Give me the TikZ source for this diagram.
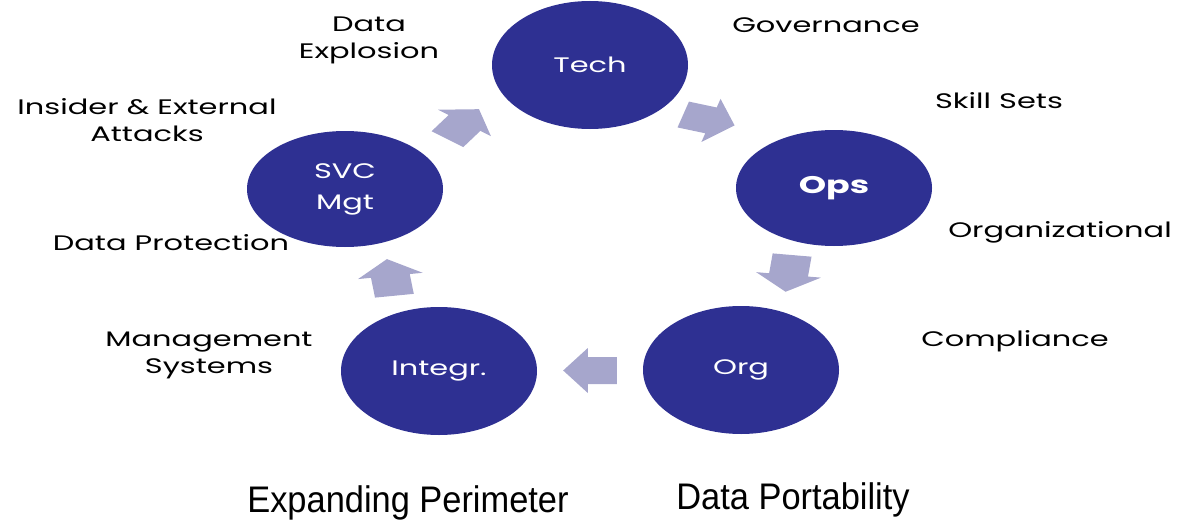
\documentclass[tikz,border=0pt]{standalone}
\usepackage{fontspec}
\usepackage{graphicx}
\setmainfont{Poppins}
\newfontfamily\capfont{Liberation Sans}
\usetikzlibrary{shapes.geometric, positioning}
\definecolor{stagefill}{RGB}{46,48,146}
\definecolor{flowfill}{RGB}{166,166,204}
\newcommand{\wide}[1]{\scalebox{1.45}[1]{#1}}
\tikzset{
  stage/.style={ellipse, fill=stagefill, text=white, inner sep=0pt,
    minimum width=196pt, minimum height=128pt, align=center,
    font=\fontsize{21}{31}\selectfont},
  note/.style={align=center, font=\fontsize{21}{27}\selectfont},
  caption/.style={font=\capfont\fontsize{37}{40}\selectfont},
  pics/flow/.style={code={
    \fill[flowfill, xscale=1.45, rotate=#1] (-18.5,-13.5) -- (1.5,-13.5)
      -- (1.5,-22.5) -- (18.5,0) -- (1.5,22.5) -- (1.5,13.5)
      -- (-18.5,13.5) -- cycle;
  }}
}

\begin{document}
\begin{tikzpicture}[x=1pt, y=-1pt]
  \useasboundingbox (0,0) rectangle (1178,527);
  % the five stages
  \node[stage] (tech) at (590,65) {\wide{Tech}};
  \node[stage, minimum height=116pt, font=\fontsize{24}{30}\selectfont\bfseries] (ops) at (834,188) {\wide{Ops}};
  \node[stage] (org) at (741,370) {\wide{Org}};
  \node[stage] (integr) at (439,371) {\wide{Integr.}};
  \node[stage, minimum height=116pt] (svc) at (345,189) {\wide{SVC}\\\wide{Mgt}};
  % flow between the stages
  \path (tech) -- (ops) pic[pos=.45, yshift=5pt]{flow=-17};
  \path (ops) -- (org) pic[pos=.5, yshift=3pt]{flow=-97};
  \path (org) -- (integr) pic[pos=.5]{flow=180};
  \path (integr) -- (svc) pic[pos=.5]{flow=98};
  \path (svc) -- (tech) pic[pos=.47, yshift=5pt]{flow=54};
  % issues round the cycle
  \node[note] (explosion) at (369,40) {\wide{Data}\\\wide{Explosion}};
  \node[note] (governance) at (826,25) {\wide{Governance}};
  \node[note] (skills) at (999,101) {\wide{Skill Sets}};
  \node[note] (attacks) at (147,120) {\wide{Insider \& External}\\\wide{Attacks}};
  \node[note] (organizational) at (1060,232) {\wide{Organizational}};
  \node[note] (protection) at (171,243) {\wide{Data Protection}};
  \node[note] (compliance) at (1015,341) {\wide{Compliance}};
  \node[note] (mgmt) at (209,355) {\wide{Management}\\\wide{Systems}};
  % themes
  \node[caption] (perimeter) at (408,503) {\scalebox{0.93}[1]{Expanding Perimeter}};
  \node[caption] (portability) at (793,500) {\scalebox{0.93}[1]{Data Portability}};
\end{tikzpicture}
\end{document}
